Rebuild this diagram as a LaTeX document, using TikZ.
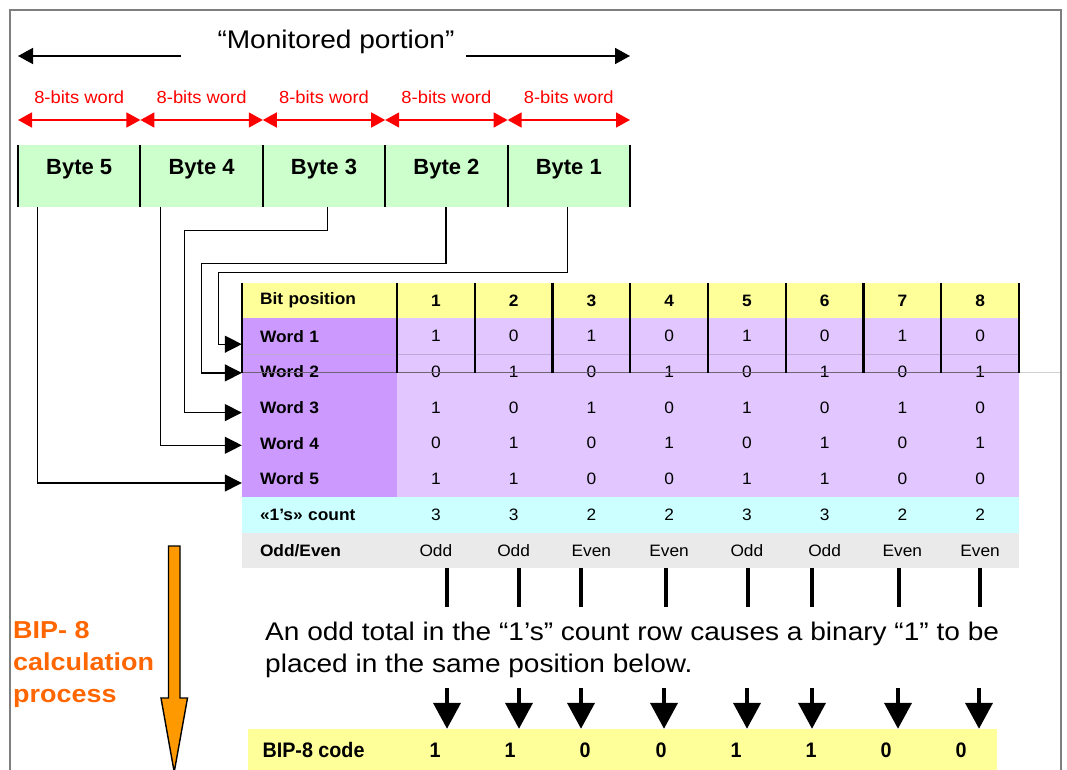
\documentclass[tikz,border=0pt]{standalone}
\usepackage{fontspec}
\setmainfont{Liberation Sans}
\newfontfamily\sansW[FakeStretch=1.1]{Liberation Sans}
\newfontfamily\sansM[FakeStretch=1.05]{Liberation Sans}
\newfontfamily\sansN[FakeStretch=0.94]{Liberation Sans}
\usetikzlibrary{arrows.meta,calc}
\definecolor{bytegreen}{HTML}{CCFFCC}
\definecolor{hdryellow}{HTML}{FFFF99}
\definecolor{lblpurple}{HTML}{CC99FF}
\definecolor{datpurple}{HTML}{E1C6FF}
\definecolor{cntcyan}{HTML}{CCFFFF}
\definecolor{pargray}{HTML}{EAEAEA}
\definecolor{frame}{HTML}{7F7F7F}
\definecolor{arrorange}{HTML}{FF9900}
\definecolor{txtorange}{HTML}{FF6600}
\definecolor{gridline}{HTML}{6E6478}
\begin{document}
\begin{tikzpicture}[x=1pt,y=-1pt,
  wordarr/.style={red,line width=1.6pt,{Triangle[length=14pt,width=15pt]}-{Triangle[length=14pt,width=15pt]}},
  bytebox/.style={fill=bytegreen,minimum width=122.4pt,minimum height=62pt,inner sep=0pt,
    text height=16pt,text depth=18pt,font=\bfseries\fontsize{22}{22}\selectfont},
  conn/.style={line width=1.3pt,-{Triangle[length=17pt,width=17pt]}},
  lblcell/.style={minimum width=155pt,minimum height=35.7pt,inner sep=0pt,inner xsep=18pt,
    text width=119pt,align=left,font=\sansM\bfseries\fontsize{16.5}{16.5}\selectfont},
  datcell/.style={minimum width=77.75pt,minimum height=35.7pt,inner sep=0pt,
    font=\sansM\fontsize{16.5}{16.5}\selectfont},
  bipfont/.style={font=\sansN\bfseries\fontsize{21}{21}\selectfont},
  grid/.style={line width=2.2pt,black},
  stub/.style={line width=4pt},
  downarr/.style={line width=4pt,-{Triangle[length=26pt,width=27pt]}}]
\useasboundingbox (0,0) rectangle (1067,770);

% outer frame
\draw[frame,line width=2pt] (10,775) -- (10,10) -- (1061,10) -- (1061,775);

% monitored portion
\node[font=\sansW\fontsize{25.5}{25.5}\selectfont] (mon) at (336,42) {“Monitored portion”};
\coordinate (monL) at (18,56);
\coordinate (monR) at (630,56);
\draw[line width=1.6pt,-{Triangle[length=15pt,width=16pt]}] (181,56) -- (monL);
\draw[line width=1.6pt,-{Triangle[length=15pt,width=16pt]}] (466,56) -- (monR);

% bytes and word spans
\foreach \i/\n in {0/5,1/4,2/3,3/2,4/1}{
  \node[bytebox] (b\n) at ({79.2+122.4*\i},176) {Byte \n};
  \coordinate (sL\n) at ({18+122.4*\i},120);
  \coordinate (sR\n) at ({140.4+122.4*\i},120);
  \draw[wordarr] (sL\n) -- (sR\n);
  \node[red,font=\sansM\fontsize{17.5}{17.5}\selectfont] at ({79.2+122.4*\i},97) {8-bits word};
}
\foreach \i in {0,...,5}
  \draw[grid,line width=2pt] ({18+122.4*\i},145) -- ({18+122.4*\i},207);

% table header
\node[lblcell,fill=hdryellow] (hdr) at (319.5,300.5) {Bit position};
\foreach \c in {1,...,8}
  \node[datcell,fill=hdryellow,font=\sansM\bfseries\fontsize{16.5}{16.5}\selectfont] (h\c) at ({397+77.75*(\c-0.5)},300.5) {\c};

% word rows
\foreach \r/\vals in {1/{1,0,1,0,1,0,1,0},2/{0,1,0,1,0,1,0,1},3/{1,0,1,0,1,0,1,0},
                      4/{0,1,0,1,0,1,0,1},5/{1,1,0,0,1,1,0,0}}{
  \node[lblcell,fill=lblpurple] (w\r) at (319.5,{300.5+35.7*\r}) {Word \r};
  \foreach \v [count=\c] in \vals
    \node[datcell,fill=datpurple] (d\r-\c) at ({397+77.75*(\c-0.5)},{300.5+35.7*\r}) {\v};
}

% count row
\node[lblcell,fill=cntcyan] (cnt) at (319.5,514.7) {«1’s» count};
\foreach \v [count=\c] in {3,3,2,2,3,3,2,2}
  \node[datcell,fill=cntcyan] (n\c) at ({397+77.75*(\c-0.5)},514.7) {\v};

% parity row
\node[lblcell,fill=pargray] (par) at (319.5,550.4) {Odd/Even};
\foreach \v [count=\c] in {Odd,Odd,Even,Even,Odd,Odd,Even,Even}
  \node[datcell,fill=pargray] (p\c) at ({397+77.75*(\c-0.5)},550.4) {\v};

% grid over header and first two rows
\draw[datpurple!70!gridline,line width=0.6pt] (242,354.4) -- (1019,354.4);
\draw[black!18,line width=0.8pt] (1019,372.5) -- (1060,372.5);
\draw[gridline,line width=1pt] (242,372.5) -- (1019,372.5);
\foreach \xx in {242,397,474.75,552.5,630.25,708,785.75,863.5,941.25,1019}
  \draw[grid] (\xx,283) -- (\xx,372.5);

% byte to word connectors
\coordinate (j1) at ($(w1.west)+(-23,8)$);
\coordinate (j2) at ($(w2.west)+(-40,1)$);
\coordinate (j3) at ($(w3.west)+(-57,5)$);
\draw[conn] ([xshift=20pt]b5.south west) |- ([yshift=-4pt]w5.west);
\draw[conn] ([xshift=20pt]b4.south west) |- ([yshift=-2pt]w4.west);
\draw[conn] ([xshift=65pt]b3.south west) -- ++(0,23) -| (j3) -- ([yshift=-5pt]w3.west);
\draw[conn] ([xshift=61pt]b2.south west) -- ++(0,56) -| (j2) -- ([yshift=-1pt]w2.west);
\draw[conn] ([xshift=60pt]b1.south west) -- ++(0,65) -| (j1) -- ([yshift=-8pt]w1.west);

% parity stubs
\foreach \c/\dx in {1/11,2/5,3/-10,4/-3,5/1,6/-13,7/-3,8/0}
  \draw[stub] ([xshift=\dx pt]p\c.south) -- ++(0,39);

% explanation
\node[font=\sansW\fontsize{25.5}{32}\selectfont,anchor=west,align=left,inner sep=0pt] (expl) at (265,650)
  {An odd total in the “1’s” count row causes a binary “1” to be\\placed in the same position below.};

% BIP-8 code row
\node[fill=hdryellow,minimum width=749pt,minimum height=46pt,inner sep=0pt] (bip) at (622.5,752) {};
\node[bipfont,anchor=west] (biplbl) at (259,750) {BIP-8 code};
\foreach \v/\xx in {1/435,1/510,0/585,0/661,1/736,1/811,0/886,0/961}
  \node[bipfont] at (\xx,750) {\v};
\foreach \xx in {447,519,581,664,747,812,898,979}{
  \coordinate (a\xx) at (\xx,688);
  \draw[downarr] (a\xx) -- (a\xx |- bip.north);
}

% BIP-8 calculation process
\node[txtorange,anchor=west,align=left,inner sep=0pt,
      font=\sansW\bfseries\fontsize{24.5}{32}\selectfont] (proc) at (13,664)
  {BIP- 8\\calculation\\process};
\draw[fill=arrorange,line width=1.4pt,line join=miter]
  (168.5,546) -- (180,546) -- (180,698) -- (187.5,698) -- (174.2,772)
  -- (161,698) -- (168.5,698) -- cycle;
\end{tikzpicture}
\end{document}
